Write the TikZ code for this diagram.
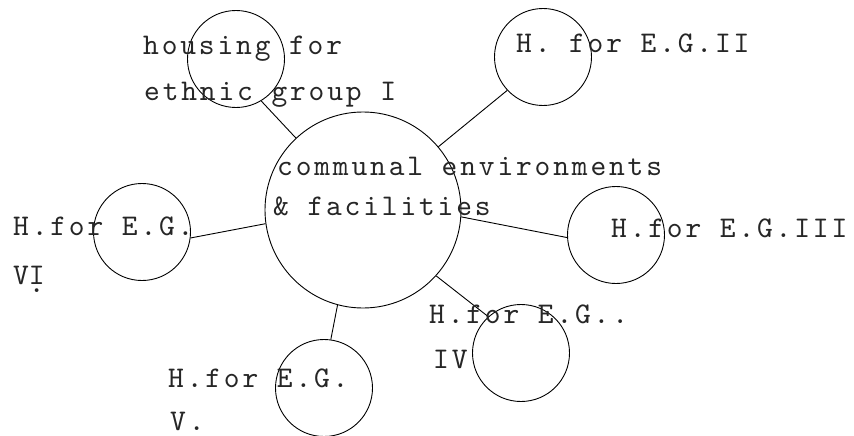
\documentclass[tikz,border=0pt]{standalone}
\usepackage{fontspec}
\setmonofont{lmmono10-regular}[Extension=.otf, LetterSpace=9.5]
\begin{document}
\begin{tikzpicture}[x=1pt,y=-1pt,
  ring/.style={draw, circle, line width=0.9pt, inner sep=0pt},
  small/.style={ring, minimum size=97pt},
  big/.style={ring, minimum size=196pt},
  lbl/.style={anchor=base west, inner sep=0pt, font=\fontsize{30}{36}\ttfamily, text=black!85},
  link/.style={line width=0.9pt}]
\useasboundingbox (0,0) rectangle (854,436);
% circles
\node[big]   (C)  at (363,210) {};
\node[small] (c1) at (236,59)  {};
\node[small] (c2) at (543,57)  {};
\node[small] (c3) at (616,235) {};
\node[small] (c4) at (521,353) {};
\node[small] (c5) at (324,388) {};
\node[small] (c6) at (142,232) {};
% connectors
\draw[link] (c1.-59) -- (C.133);
\draw[link] (c2.223) -- (C.40);
\draw[link] (c6.-7) -- (C.188);
\draw[link] (C.255) -- (c5.82);
\draw[link] (C.-4) -- (c3.183);
\draw[link] (C.-42) -- (c4.132);
% labels
\node[lbl] (t1a) at (143,55)  {housing for};
\node[lbl] (t1b) at (144,100) {ethnic group I};
\node[lbl] (t2)  at (516,53)  {H. for E.G.II};
\node[lbl] (tca) at (277,175) {communal environments};
\node[lbl] (tcb) at (273,215) {\& facilities};
\node[lbl] (t6a) at (13,235)  {H.for E.G.};
\node[lbl] (t6b) at (13,284)  {V\rlap{\raisebox{-8pt}{.}}I};
\node[lbl] (t5a) at (168,387) {H.for E.G.};
\node[lbl] (t5b) at (170,430) {V.};
\node[lbl] (t3)  at (611,237) {H.for E.G.III};
\node[lbl] (t4a) at (429,323) {H.for E.G..};
\node[lbl] (t4b) at (433,368) {IV};
\end{tikzpicture}
\end{document}
